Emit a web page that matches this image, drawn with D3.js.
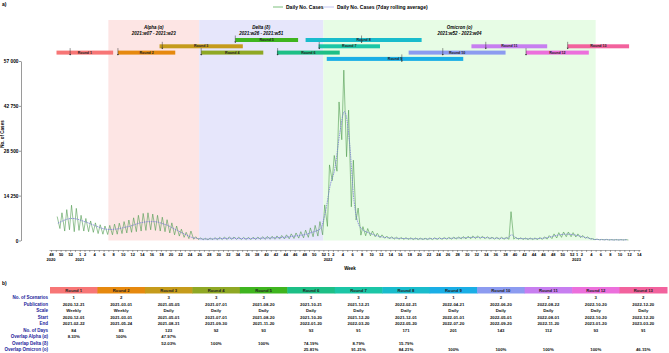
<!DOCTYPE html>
<html>
<head>
<meta charset="utf-8">
<script src="https://cdn.jsdelivr.net/npm/d3@7"></script>
<style>
body { margin: 0; background: #fff; }
text { font-family: "Liberation Sans", Arial, sans-serif; }
</style>
</head>
<body>
<div id="chart"></div>
<script>
// weekly series, weeks start on Monday 2020-11-30
const firstMonday = "2020-11-30";
const weeklyHigh = [
  7600, 8800, 9800, 11200, 10200, 8000, 7000, 6200, 5600, 5000,
  4600, 4800, 5200, 5500, 6000, 6500, 7200, 8000, 8600, 8800,
  8400, 8000, 7400, 6600, 5600, 4600, 3600, 2600, 3000, 1200,
  800, 700, 800, 900, 1000, 1100, 1150, 1100, 1050, 1000,
  1000, 1050, 1100, 1200, 1300, 1350, 1450, 1600, 1800, 2100,
  2400, 2800, 3300, 4000, 4800, 6000, 11300, 24000, 27000, 44000,
  54100, 41400, 25500, 10300, 4400, 3800, 3000, 2300, 1800, 1400,
  1200, 1050, 950, 900, 850, 800, 750, 750, 800, 850,
  900, 950, 1000, 1100, 1150, 1250, 1350, 1450, 1450, 1350,
  1200, 1050, 1000, 1000, 1000, 9150, 1000, 850, 800, 800,
  800, 950, 1150, 1550, 2100, 2500, 2700, 2700, 2500, 2100,
  1600, 1150, 600, 450, 350, 350, 300, 300, 300, 300
];
const weeklyLow = [
  3800, 3000, 3400, 2800, 3200, 3000, 2800, 2600, 2200, 2000,
  1900, 1800, 2000, 2200, 2400, 2600, 2800, 3000, 3200, 3400,
  3200, 3000, 2800, 2400, 1800, 1400, 1000, 600, 400, 300,
  250, 200, 250, 250, 300, 300, 350, 350, 300, 300,
  300, 300, 350, 350, 400, 400, 450, 500, 550, 650,
  750, 850, 1000, 1200, 1400, 1800, 4500, 19000, 22000, 32000,
  26600, 10700, 6500, 1700, 1500, 1500, 1200, 900, 700, 500,
  450, 400, 350, 350, 300, 300, 300, 300, 300, 350,
  350, 400, 400, 450, 500, 500, 550, 600, 600, 550,
  500, 450, 400, 400, 400, 450, 400, 350, 300, 300,
  300, 350, 450, 600, 800, 1000, 1200, 1200, 1100, 900,
  700, 500, 250, 200, 200, 150, 150, 150, 150, 150
];
const weeklyAvg = [
  5500, 6200, 6800, 7000, 6800, 6300, 5800, 5200, 4600, 4000,
  3600, 3500, 3600, 3800, 4200, 4500, 5000, 5500, 5800, 6000,
  6000, 5800, 5300, 4800, 4000, 3200, 2400, 1700, 1000, 700,
  500, 450, 500, 550, 600, 650, 700, 700, 650, 600,
  600, 650, 700, 750, 800, 850, 900, 1000, 1100, 1300,
  1500, 1700, 2000, 2500, 3000, 3800, 9000, 17500, 23000, 34000,
  41000, 32000, 12500, 5000, 3200, 2500, 1900, 1400, 1100, 900,
  800, 700, 650, 600, 550, 550, 500, 500, 550, 600,
  600, 650, 700, 750, 800, 850, 950, 1000, 1000, 950,
  850, 750, 700, 700, 700, 1800, 700, 600, 550, 550,
  550, 650, 800, 1100, 1500, 1800, 2000, 2000, 1800, 1500,
  1100, 800, 400, 300, 250, 250, 200, 200, 200, 200
];
const yTicks = [0, 14250, 28500, 42750, 57000];

const variantNames = ["Alpha (α)", "Delta (δ)", "Omicron (ο)"];
const variantSpans = ["2021:w07 - 2021:w23", "2021:w26 - 2021:w51", "2021:w52 - 2023:w04"];
const variantFrom = ["2021-02-15", "2021-06-28", "2021-12-27"];
const variantTo = ["2021-06-28", "2021-12-27", "2023-01-30"];
const variantColors = ["#fde5e4", "#e6e6fb", "#e7fce5"];

const roundNames = d3.range(1, 14).map(i => "Round " + i);
const roundScenarios = [1, 2, 3, 3, 3, 3, 3, 2, 1, 2, 2, 3, 2];
const roundPublication = ["2020-12-21", "2021-03-01", "2021-05-05", "2021-07-01", "2021-08-20", "2021-10-21", "2021-12-21",
  "2022-02-21", "2022-04-21", "2022-06-20", "2022-08-22", "2022-10-20", "2022-12-20"];
const roundScale = ["Weekly", "Weekly", "Daily", "Daily", "Daily", "Daily", "Daily", "Daily", "Daily", "Daily", "Daily", "Daily", "Daily"];
const roundStart = ["2020-12-01", "2021-03-01", "2021-05-01", "2021-07-01", "2021-08-20", "2021-10-20", "2021-12-20",
  "2021-12-01", "2022-01-01", "2022-05-01", "2022-08-01", "2022-10-20", "2022-12-20"];
const roundEnd = ["2021-02-22", "2021-05-24", "2021-08-31", "2021-09-30", "2021-11-20", "2022-01-20", "2022-03-20",
  "2022-05-20", "2022-07-20", "2022-09-20", "2022-11-20", "2023-01-20", "2023-03-20"];
const roundDays = [84, 85, 123, 92, 93, 93, 91, 171, 201, 143, 112, 93, 91];
const overlapAlpha = ["8.33%", "100%", "47.97%", "", "", "", "", "", "", "", "", "", ""];
const overlapDelta = ["", "", "52.03%", "100%", "100%", "74.19%", "8.79%", "15.79%", "", "", "", "", ""];
const overlapOmicron = ["", "", "", "", "", "25.81%", "91.21%", "84.21%", "100%", "100%", "100%", "100%", "46.15%"];
const roundColors = ["#f77676", "#e6890e", "#c59b1b", "#8fa824", "#3fb51f", "#1dbf86", "#1bc6a6",
  "#19bccc", "#1aaee6", "#8c9bf0", "#c77ef0", "#ec6fdc", "#f2629d"];
const barLane = [2, 2, 1, 2, 0, 2, 1, 0, 3, 2, 1, 2, 1];

const W = 669, H = 353;
const parse = d3.utcParse("%Y-%m-%d");
const svg = d3.select("#chart").append("svg").attr("width", W).attr("height", H);

const x = d3.scaleUtc().domain([parse("2020-11-20"), parse("2023-04-05")]).range([49, 640]);
const y = d3.scaleLinear().domain([0, 57000]).range([240.5, 61]);

svg.append("text").attr("x", 2).attr("y", 6).style("font-size", "5px").style("font-weight", "bold").text("a)");

// variant shading
variantNames.forEach((name, i) => {
  const x0 = x(parse(variantFrom[i])), x1 = x(parse(variantTo[i]));
  svg.append("rect").attr("x", x0).attr("y", 20).attr("width", x1 - x0).attr("height", y(0) - 20)
    .attr("fill", variantColors[i]);
  svg.append("text").attr("x", (x0 + x1) / 2).attr("y", 29).attr("text-anchor", "middle")
    .style("font-size", "4.5px").style("font-weight", "bold").style("font-style", "italic").text(name);
  svg.append("text").attr("x", (x0 + x1) / 2).attr("y", 35).attr("text-anchor", "middle")
    .style("font-size", "4.5px").style("font-weight", "bold").style("font-style", "italic").text(variantSpans[i]);
});

// legend
const legend = svg.append("g").attr("transform", "translate(273,7)");
legend.append("line").attr("x1", 0).attr("x2", 10).attr("stroke", "#7dbf7d").attr("stroke-width", 1);
legend.append("text").attr("x", 13).attr("y", 1.7).style("font-size", "5px").style("font-weight", "bold").text("Daily No. Cases");
legend.append("line").attr("x1", 51).attr("x2", 61).attr("stroke", "#c4c4f0").attr("stroke-width", 1);
legend.append("text").attr("x", 64).attr("y", 1.7).style("font-size", "5px").style("font-weight", "bold")
  .text("Daily No. Cases (7day rolling average)");

// round bars
const laneY = l => 38 + l * 6.3;
roundNames.forEach((name, i) => {
  const x0 = x(parse(roundStart[i])), x1 = x(parse(roundEnd[i]));
  const by = laneY(barLane[i]);
  svg.append("rect").attr("x", x0).attr("y", by).attr("width", x1 - x0).attr("height", 4).attr("fill", roundColors[i]);
  svg.append("text").attr("x", (x0 + x1) / 2).attr("y", by + 3).attr("text-anchor", "middle")
    .style("font-size", "3.6px").style("font-weight", "bold").attr("fill", "#222").text(name);
  const px = x(parse(roundPublication[i]));
  svg.append("line").attr("x1", px).attr("x2", px).attr("y1", by - 2.5).attr("y2", by + 4.5)
    .attr("stroke", "#333").attr("stroke-width", 0.5);
  svg.append("path").attr("d", `M${px - 1},${by + 3.5}L${px + 1},${by + 3.5}L${px},${by + 5}Z`).attr("fill", "#333");
});

// series
const dayMs = 86400000;
const start = parse(firstMonday);
const daily = [];
weeklyHigh.forEach((h, i) => {
  daily.push({ date: new Date(+start + (i * 7 + 2) * dayMs), v: h });
  daily.push({ date: new Date(+start + (i * 7 + 6) * dayMs), v: weeklyLow[i] });
});
const rolling = weeklyAvg.map((v, i) => ({ date: new Date(+start + (i * 7 + 3) * dayMs), v }));

const line = d3.line().x(d => x(d.date)).y(d => y(d.v));
svg.append("path").datum(daily).attr("d", line).attr("fill", "none").attr("stroke", "#4f9a4f").attr("stroke-width", 0.6);
svg.append("path").datum(rolling).attr("d", line.curve(d3.curveMonotoneX)).attr("fill", "none")
  .attr("stroke", "#7878d8").attr("stroke-width", 0.8).attr("stroke-dasharray", "1.5,0.8");

// y axis
const yAxis = svg.append("g").attr("transform", "translate(21,0)")
  .call(d3.axisLeft(y).tickValues(yTicks).tickSize(2).tickSizeOuter(0).tickFormat(d => d3.format(",")(d).replace(",", " ")));
yAxis.selectAll("text").style("font-size", "4.8px").style("font-weight", "bold").attr("x", -2.5);
yAxis.selectAll("path,line").attr("stroke", "#555").attr("stroke-width", 0.6);
svg.append("text").attr("transform", "translate(4,134) rotate(-90)").attr("text-anchor", "middle")
  .style("font-size", "4.5px").style("font-weight", "bold").text("No. of Cases");

// x axis: ISO weeks
const weekTicks = d3.utcMonday.range(parse("2020-11-23"), parse("2023-04-04"));
const isoWeek = d3.utcFormat("%V");
const xAxis = svg.append("g").attr("transform", "translate(0,250)")
  .call(d3.axisBottom(x).tickValues(weekTicks).tickSize(2).tickSizeOuter(0)
    .tickFormat(d => { const w = +isoWeek(d); return (w % 2 === 0 || w === 1) ? w : ""; }));
xAxis.selectAll("text").style("font-size", "4px").style("font-weight", "bold").attr("y", 3);
xAxis.selectAll("path,line").attr("stroke", "#555").attr("stroke-width", 0.5);
weekTicks.filter((d, i) => i === 0 || +isoWeek(d) === 1).forEach(d => {
  svg.append("text").attr("x", x(d)).attr("y", 260.5).attr("text-anchor", "middle")
    .style("font-size", "4px").style("font-weight", "bold").text(d3.utcFormat("%G")(d));
});
svg.append("text").attr("x", 350).attr("y", 270).attr("text-anchor", "middle")
  .style("font-size", "4.5px").style("font-weight", "bold").text("Week");

// table b)
svg.append("text").attr("x", 2).attr("y", 285).style("font-size", "5px").style("font-weight", "bold").text("b)");
const col = d3.scaleBand().domain(roundNames).range([50, 667]);
const rowLabels = ["No. of Scenarios", "Publication", "Scale", "Start", "End", "No. of Days",
  "Overlap Alpha (α)", "Overlap Delta (δ)", "Overlap Omicron (ο)"];
const rowValues = [roundScenarios, roundPublication, roundScale, roundStart, roundEnd, roundDays,
  overlapAlpha, overlapDelta, overlapOmicron];
const rowY = d3.scalePoint().domain(rowLabels).range([297.5, 349.5]);

roundNames.forEach((name, i) => {
  svg.append("rect").attr("x", col(name)).attr("y", 287).attr("width", col.bandwidth() + 0.5).attr("height", 6.5)
    .attr("fill", roundColors[i]);
  svg.append("text").attr("x", col(name) + col.bandwidth() / 2).attr("y", 291.8).attr("text-anchor", "middle")
    .style("font-size", "4.2px").style("font-weight", "bold").attr("fill", "#222").text(name);
});
rowLabels.forEach((lab, r) => {
  svg.append("text").attr("x", 48).attr("y", rowY(lab)).attr("dy", "0.35em").attr("text-anchor", "end")
    .style("font-size", "4.5px").style("font-weight", "bold").attr("fill", "#23239a").text(lab);
  rowValues[r].forEach((v, i) => {
    svg.append("text").attr("x", col(roundNames[i]) + col.bandwidth() / 2).attr("y", rowY(lab)).attr("dy", "0.35em")
      .attr("text-anchor", "middle").style("font-size", "4.3px").style("font-weight", "bold").attr("fill", "#111").text(v);
  });
});
</script>
</body>
</html>
